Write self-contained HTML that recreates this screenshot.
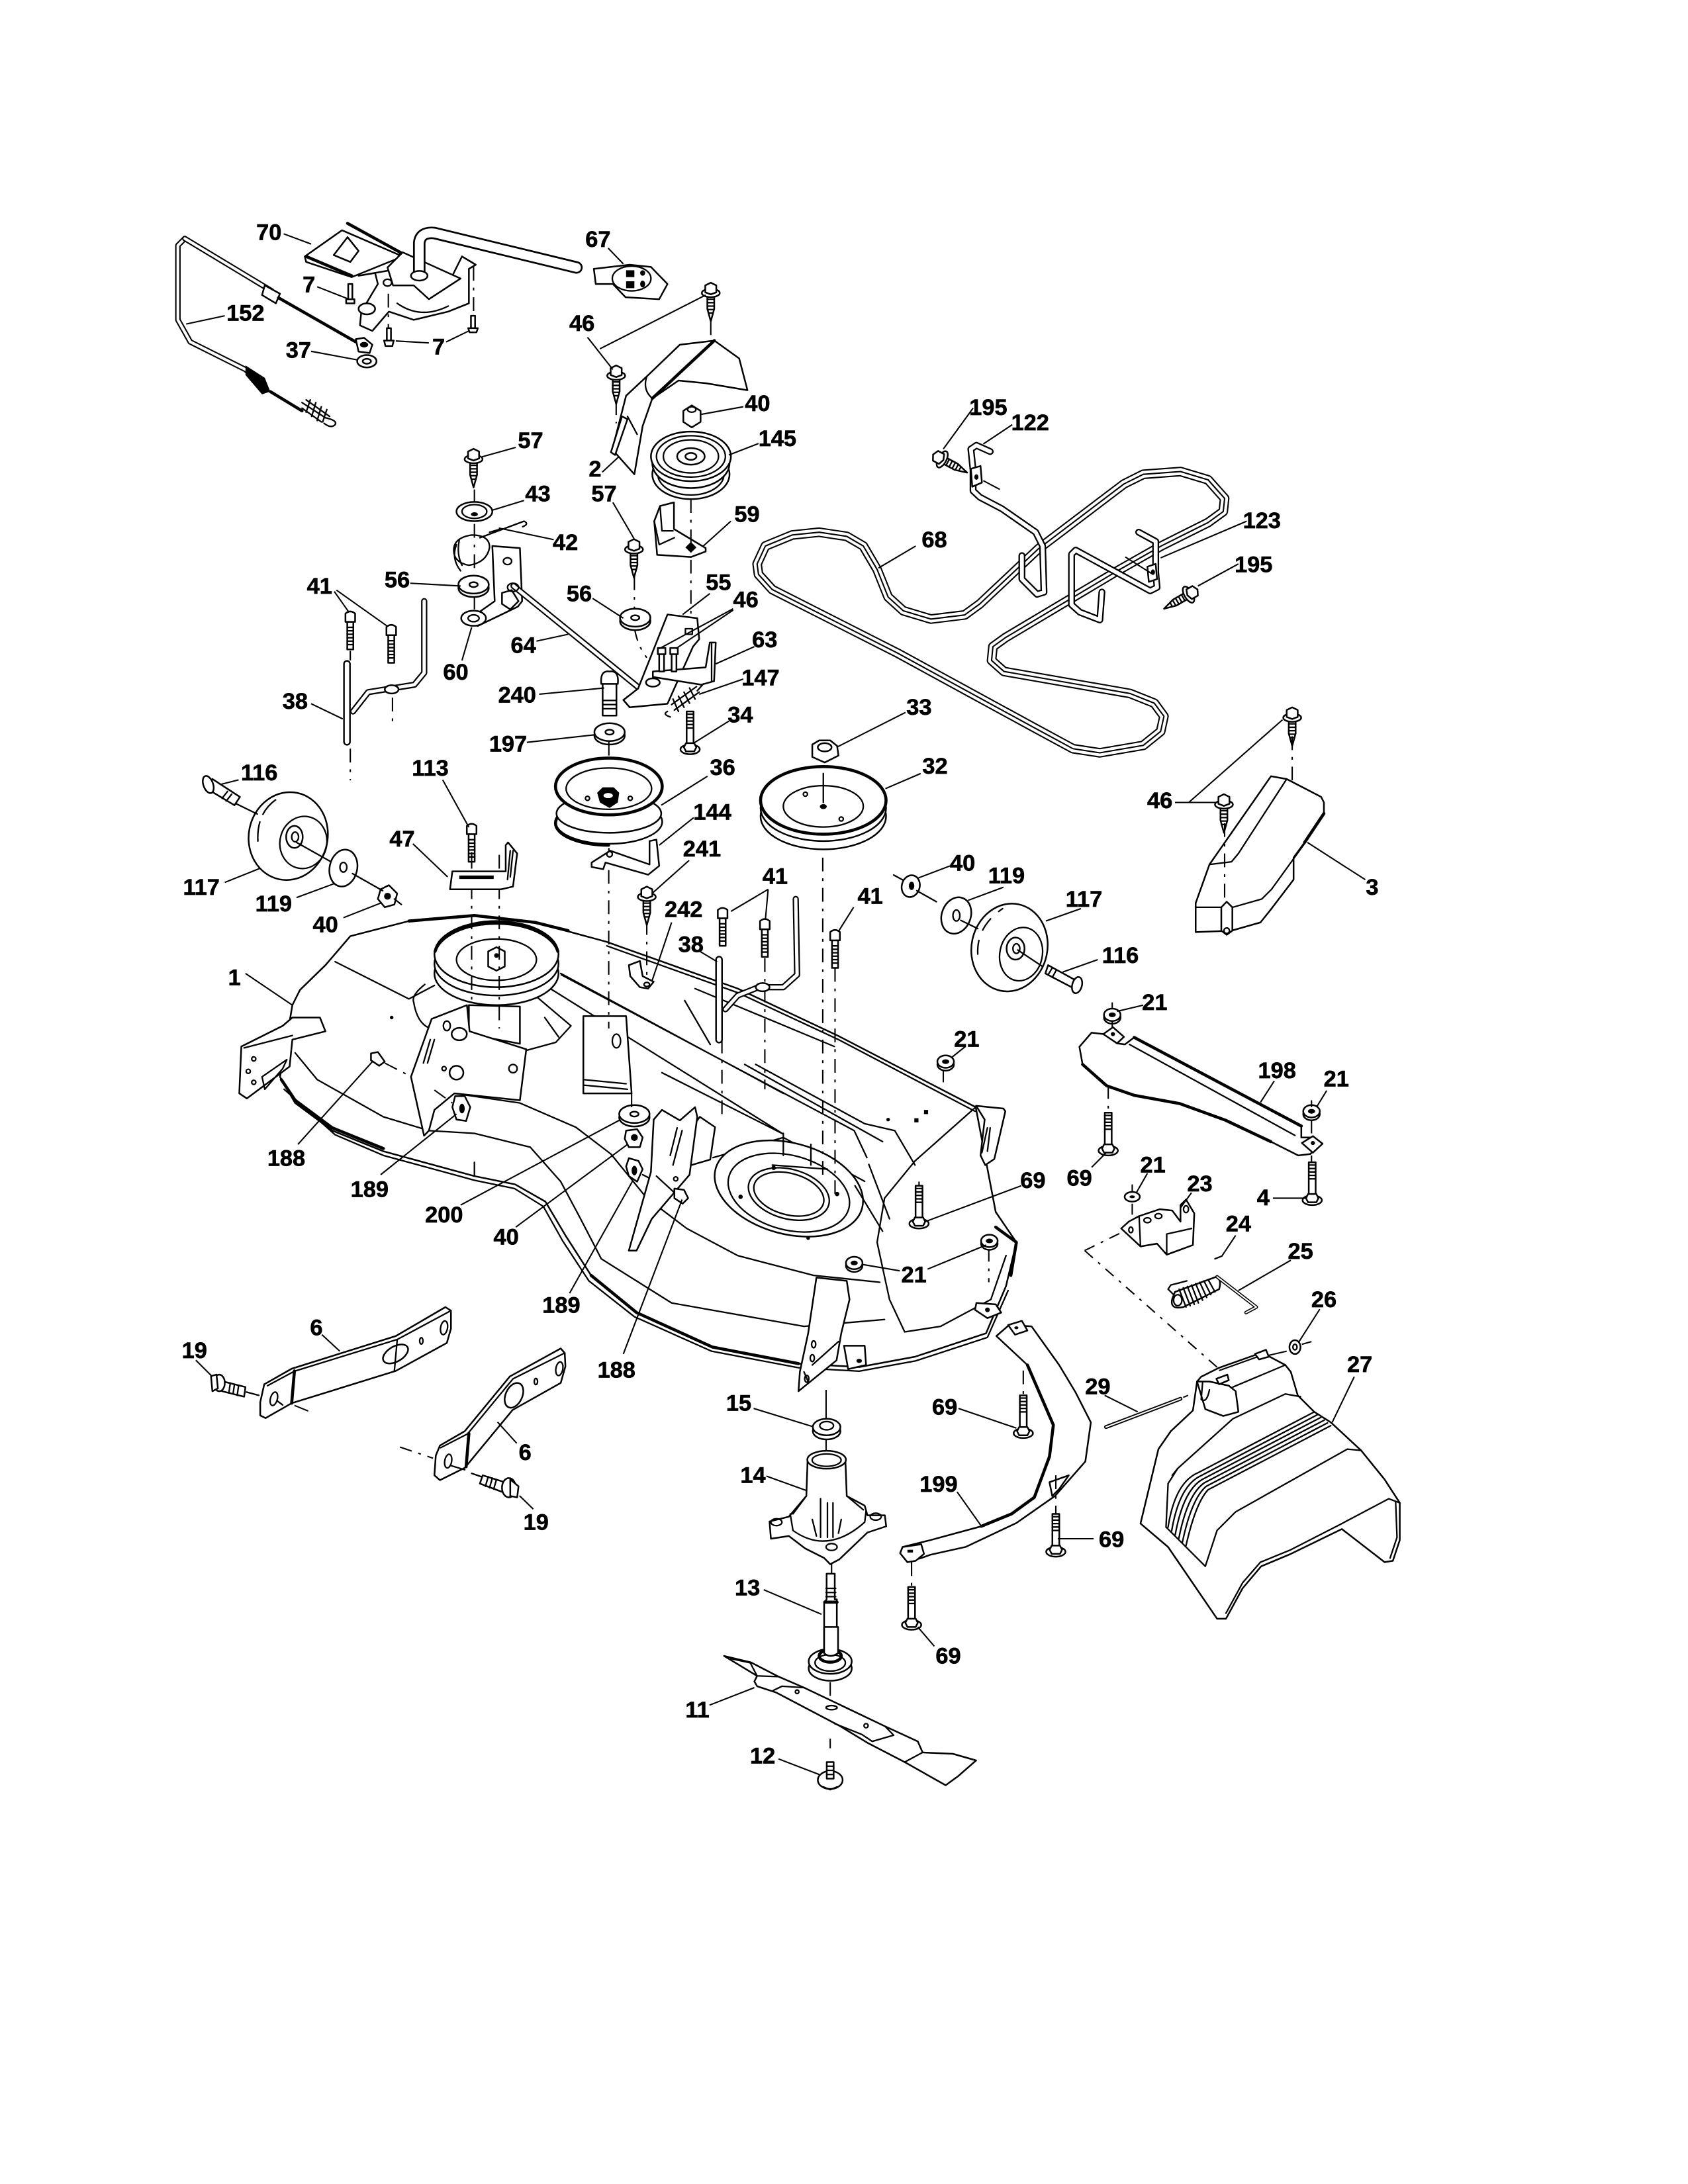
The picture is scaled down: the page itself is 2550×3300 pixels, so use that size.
<!DOCTYPE html>
<html><head><meta charset="utf-8"><title>Mower deck parts diagram</title>
<style>
html,body{margin:0;padding:0;background:#fff}
svg{display:block}
text{font-family:"Liberation Sans",sans-serif;font-weight:700;font-size:16.5px;text-anchor:middle;fill:#000;stroke:#000;stroke-width:.3}
.p{fill:#fff;stroke:#000;stroke-width:1.2;stroke-linejoin:round;stroke-linecap:round}
.n{fill:none;stroke:#000;stroke-width:1.1;stroke-linejoin:round;stroke-linecap:round}
.h{fill:none;stroke:#000;stroke-width:2.2;stroke-linejoin:round;stroke-linecap:round}
.l{fill:none;stroke:#000;stroke-width:1}
.d{fill:none;stroke:#000;stroke-width:1;stroke-dasharray:10 5 2 5}
.o{fill:none;stroke:#000;stroke-linejoin:round;stroke-linecap:round}
.w{fill:none;stroke:#fff;stroke-linejoin:round;stroke-linecap:round}
.k{fill:#000;stroke:none}
</style></head><body>
<svg xmlns="http://www.w3.org/2000/svg" width="2550" height="3300" viewBox="0 0 1224 1584">
<defs>
<g id="tb"><path class="p" d="M-2.5 4 -2.5 14 0 23 2.5 14 2.5 4Z"/><path class="n" d="M-2.5 7H2.5M-2.5 9.5H2.5M-2.5 12H2.5M-2.2 14.5H2.2M-1.6 17H1.6"/><ellipse class="p" cx="0" cy="2.5" rx="6.5" ry="3"/><path class="p" d="M-4 2V-3L0-5 4-3V2L0 3.5Z"/></g>
<g id="mb"><path class="p" d="M-2.2 4V24H2.2V4Z"/><path class="n" d="M-2.2 8H2.2M-2.2 10.500H2.2M-2.2 13H2.200M-2.200 15.500H2.200M-2.200 18H2.200M-2.200 20.500H2.200"/><path class="p" d="M-3.500 4V-2Q0-5 3.500-2V4Z"/></g>
<g id="hb"><path class="p" d="M-2.500 0V-26H2.500V0Z"/><path class="n" d="M-2.500-24H2.500M-2.500-21.500H2.500M-2.500-19H2.500M-2.500-16.500H2.500M-2.500-14H2.500"/><ellipse class="p" cx="0" cy="1.500" rx="7" ry="3.500"/><path class="p" d="M-4.500 0-3-3H3L4.500 0 3 3H-3Z"/></g>
<g id="nut"><ellipse class="p" cx="0" cy="2" rx="6" ry="4.500"/><ellipse class="p" cx="0" cy="0" rx="6" ry="4.500"/><ellipse class="k" cx="0" cy="0" rx="2.600" ry="1.700"/></g>
<g id="washer"><ellipse class="p" cx="0" cy="2.500" rx="11" ry="6.500"/><ellipse class="p" cx="0" cy="0" rx="11" ry="6.500"/><ellipse class="p" cx="0" cy="0" rx="3" ry="1.800"/></g>
<path id="belt" d="M549 409 L555 396 L574.500 388 L594 386 L614 389 L626 396 L636 413 L644 433 L655 443 L675 449 L699.500 446 L710.500 438 L753 398 L815 351 L829 344 L856 342 L876 348 L888 361.500 L887 371 L876 379 L842 396 L812 413 L729 462.500 L720 469 L719 479 L728 487 L819.500 503 L837 510 L844 519.500 L841.600 530.500 L829 540.600 L797.500 546 L778 543 L748.500 527 L650.500 473.500 L560 427.600 L550 416.600 Z"/>
<path id="wa" d="M718 327.500 L708 323 L704 325.700 L705.600 341 L705.600 356 L710.500 360.600 L726.500 369 L751 386 L756 396 L757 429.500 L752 431 L741 420 L741 403"/>
<path id="wb" d="M825.700 386 L838 392.700 L838 415 L839 426 L834 428.500 L780 399 L777 402 L777 438.600 L783 444 L797.500 449.600 L799 429.400"/>
</defs>
<rect width="1224" height="1584" fill="#fff"/>

<!-- DECK -->
<path class="p" d="M203 781 L206 765 L212 729 L217.500 718 L236 700 L254 679 L296.500 668 L344 664 L388 669 L439.600 683 L535 717 L608 751.400 L707.500 803 L722 879 L737 901 L729.500 932.700 L715 967 L663.500 984 L623 991.500 L579 989 L516.600 977 L461.600 952 L428.600 925 L410 896 L395.500 871.500 L373.500 859 L344 853 L278 835 L241 820 L214 800Z"/>
<path class="n" d="M206 790 L243 823 L278 838 L344 856 L373 862 L394 875 L408 900 L427 929 L460 955 L516 980 L579 992 L623 994.500 L664 987 L716 970 L731 936"/>
<path class="h" d="M204 783 L214 798 L241 818 L278 833 M296.500 668 L344 664 L388 669 L412 675 M428.600 925 L461.600 952 L516.600 977 L579 989 M722 890 L737 901 L733 925"/>
<path class="n" d="M440 686 L535 720 L608 754 L707 806"/>
<path class="n" d="M214 763.600 L230 783 L278 810 L311 820 L344 822 L384.500 832 L406.600 857 L421 884 L436 913 L487 945 L583 962 L641.400 957"/>
<path class="n" d="M329.500 793 L377 800 L417.600 817.600 L443 837 L469 869 L498 891 L535 910.700 L590 925 L638 930"/>
<path class="n" d="M344 843 L344 853"/>
<path class="n" d="M707.500 803 L663.500 842 L641.400 869 L636 901 L645 942.500 L656 966 L682 962 L718.500 942.500 L729.500 910.600"/>
<path class="n" d="M630 844.500 L645 884 M243 697.500 L296.500 724.500 L315 714.700"/>
<path class="n" d="M406.600 706 L568 793 M399 717 L568 822.500 M407 707 L619.400 820 L628.600 839.600 M480 778 L568 822.500 M548 772 L627 815 L648.800 820 L663.500 845 M504 717 L605 759 M496.500 725.700 L515 757.500 M540 772 L640 828"/>
<path class="n" d="M517 839.600 L568 825 L627 856.800"/>
<ellipse class="p" cx="572" cy="862" rx="55" ry="33" transform="rotate(15 572 862)"/>
<ellipse class="n" cx="572" cy="865" rx="45" ry="27" transform="rotate(15 572 865)"/>
<ellipse class="n" cx="572" cy="866" rx="30" ry="18" transform="rotate(15 572 866)"/>
<ellipse class="n" cx="572" cy="866" rx="26" ry="15" transform="rotate(15 572 866)"/>
<path class="n" d="M568 822 V838 M588 830 V845 M620 860 L640 893 M560 845 L600 848"/>
<circle class="k" cx="284" cy="738" r="1.300"/><circle class="k" cx="644" cy="812" r="1.300"/><circle class="k" cx="586" cy="898" r="1.300"/><circle class="k" cx="561" cy="847" r="1.600"/><circle class="k" cx="537" cy="868" r="1.600"/><circle class="k" cx="607" cy="866" r="1.600"/><path class="k" d="M663 811h3v3h-3ZM670 805h3v3h-3Z"/>
<!-- right flange -->
<path class="p" d="M707.800 802 L727.600 804 L729 806 L721 840.600 L714.400 845 L711 838 L714 812Z"/>
<path class="n" d="M716 818 L712 836 M718 818 L716 835"/>
<!-- left flange -->
<path class="p" d="M175 759 L205 744 L212 738 L232 738 L236 748 L212 754 L210 773.500 L179 796.700 L173.500 793Z"/>
<path class="n" d="M177 760 L212 751"/>
<circle class="n" cx="184" cy="768" r="1.500"/><circle class="n" cx="180" cy="777" r="1.500"/><circle class="n" cx="184" cy="785" r="1.500"/><path class="n" d="M190 781 L208 768.500 L205 775 L192 790Z"/>
<!-- pulley well -->
<path class="n" d="M300 727 Q303 745 315 746.500 M388 722 L414 744 L403 756 L381 762"/>
<path class="n" d="M308 714 Q298 722 300 727 M395 738 L405 752"/>
<!-- center pulley on deck -->
<path class="p" d="M340 729 L377 730 L377 757 L340 750Z"/>
<ellipse class="p" cx="360" cy="706" rx="45" ry="23"/>
<ellipse class="p" cx="360" cy="699" rx="45" ry="23"/>
<ellipse class="p" cx="360" cy="692" rx="45" ry="24"/>
<path class="h" d="M315.500 690 A45 24 0 0 1 404.500 690"/>
<ellipse class="n" cx="360" cy="696" rx="29" ry="15"/>
<path class="p" d="M354 690 L360 687 L366 690 L366 701 L360 704 L354 701Z"/>
<circle class="k" cx="360" cy="693" r="1.700"/>
<!-- left plate -->
<path class="p" d="M338.600 729 L313 739 L298 781 L307.500 823.700 L311 820 L315 805 L329.500 793 L377 798 L381.600 761 L340.500 748Z"/>
<ellipse class="n" cx="324" cy="744" rx="2.500" ry="3.500"/><ellipse class="p" cx="333" cy="750" rx="5.500" ry="4.500"/><circle class="n" cx="372" cy="775" r="3"/><ellipse class="p" cx="331" cy="778" rx="5" ry="5"/><circle class="n" cx="322" cy="775" r="1.500"/>
<path class="n" d="M315 754 L310 771 M312 754 L307 771"/>
<!-- mid bracket -->
<path class="p" d="M423 737 L454 737 L458 793 L423 793Z"/>
<path class="n" d="M423 783 L454 786 M423 787 L455 790"/>
<ellipse class="n" cx="447" cy="755" rx="3" ry="5"/>
<!-- left hardware -->
<path class="p" d="M269 764 L274 763 L279 770 L275 773 L269 769Z"/>
<path class="d" d="M279 771 L296.500 780 M315 790.600 L328 800"/>
<path class="p" d="M330 795 L337 795 L341 803 L338 813 L331 812 L328 803Z"/><ellipse class="k" cx="335" cy="804" rx="2" ry="3.500"/>
<!-- 200, 40, 189 -->
<use href="#washer" x="460" y="808"/>
<path class="p" d="M454 820 L462 819 L466 825 L464 832 L456 832 L453 826Z"/><circle class="k" cx="460" cy="825" r="2.500"/>
<path class="p" d="M456 840 L463 842 L466 848 L462 857 L456 853 L454 846Z"/><ellipse class="k" cx="460" cy="849" rx="2" ry="3.500"/>
<path class="n" d="M466 852 L474 856"/>
<!-- right bracket -->
<path class="p" d="M507.500 810 L518.500 817.500 L515 841 L494.600 847 L500 820Z"/>
<path class="p" d="M504 803 L505.600 810 L500 852 L472.600 884 L461.600 907 L456 907 L472 850 L474 812 L480 805 L493 812.600Z"/>
<path class="n" d="M494.600 820 L488 845 M491 818 L486 838"/>
<circle class="n" cx="490" cy="855" r="1.500"/>
<path class="p" d="M489 862 L496 863 L499 869 L495 873 L489 869Z"/>
<path class="n" d="M476 853 L489 865"/>
<!-- front tab -->
<path class="p" d="M592 926.600 L614 929 L616 942.500 L610 967 L606.600 986.600 L579 1009 L580 995 L586 967Z"/>
<path class="n" d="M589 990 L608 973 M583 995 L586 1002"/>
<ellipse class="n" cx="590" cy="975" rx="1.500" ry="2.500"/><ellipse class="n" cx="589" cy="985" rx="1.500" ry="2.500"/><ellipse class="n" cx="585" cy="1000" rx="1.500" ry="2.500"/>
<path class="p" d="M612 976 L627 976 L628 990 L615 993Z"/><ellipse class="k" cx="623" cy="987" rx="2" ry="1.500"/>
<path class="p" d="M708 945 L722 946 L726 952 L716 956 L707 950Z"/>
<ellipse class="k" cx="716" cy="950" rx="1.700" ry="1.700"/>
<!-- dash lines into deck -->
<path class="d" d="M342 620V729 M362 620V746 M441.400 631V746 M596.600 622V852 M605.500 702V866 M523.500 754V808 M554.600 695V790 M469 668V714 M458 793V805 M666.400 857V869 M717 905V930 M684 775V790 M441.500 600V618 M597 556V581"/>
<use href="#mb" x="524" y="662"/><use href="#mb" x="554.600" y="670"/><use href="#mb" x="605.500" y="678"/>
<path class="p" d="M456 700 L464 697 L466 708 L474 712 L470 717 L464 716 L457 708Z"/><ellipse class="n" cx="469" cy="714" rx="2" ry="1.500"/>
<use href="#hb" x="666.400" y="886"/>
<use href="#nut" x="685.700" y="770"/><use href="#nut" x="619.400" y="916"/><use href="#nut" x="717.400" y="900"/>

<!-- wire 38 left -->
<path class="o" stroke-width="5.500" d="M251.600 481.500 V538"/><path class="w" stroke-width="3.200" d="M251.600 481.500 V538"/>
<path class="o" stroke-width="4.500" d="M307.600 436 V488 L300.500 496.600 L267 502 L256 516"/><path class="w" stroke-width="2.400" d="M307.600 436 V488 L300.500 496.600 L267 502 L256 516"/>
<ellipse class="p" cx="284" cy="500" rx="5" ry="3"/>
<!-- wire 38 right -->
<path class="o" stroke-width="5.500" d="M521.400 696 V754"/><path class="w" stroke-width="3.200" d="M521.400 696 V754"/>
<path class="o" stroke-width="4.500" d="M577 652 L578 707 L568 716 L550 716 L535 722 L526 732"/><path class="w" stroke-width="2.400" d="M577 652 L578 707 L568 716 L550 716 L535 722 L526 732"/>
<ellipse class="p" cx="553" cy="716" rx="5" ry="3"/>

<!-- TOP LEFT CONTROL -->
<path class="o" stroke-width="4" d="M134 173 L129 178 V232 L138 248 L178 268 L192 280"/><path class="w" stroke-width="2" d="M134 173 L129 178 V232 L138 248 L178 268 L192 280"/>
<path class="o" stroke-width="4" d="M134 173 L197 211"/><path class="w" stroke-width="2" d="M134 173 L197 211"/>
<path class="p" d="M192 207 L203 213 L200 220 L190 214Z"/>
<path class="h" d="M202 216 L258 248 M196 284 L219 298"/>
<path class="k" d="M178 265 L192 274 L196 284 L190 286 L178 272Z"/>
<path class="n" stroke-width="2" d="M219 292 L236 303 M219 296 L233 306 M222 290 L239 302 M225 290 L222 299 M229 292 L226 302 M233 295 L230 305 M237 297 L234 306"/>
<path class="n" d="M236 303 Q245 305 243 308 Q240 311 235 307"/>
<path class="p" d="M258 246 L264 245 L270 250 L268 256 L260 255Z"/><ellipse class="k" cx="264" cy="250" rx="3" ry="2"/>
<ellipse class="p" cx="266" cy="262" rx="7" ry="4.500"/><ellipse class="p" cx="266" cy="262" rx="3" ry="1.800"/>
<path class="p" d="M221 186 L248 167 L292 186 L255 201 L222 190Z"/>
<path class="h" d="M252 162 L292 184 M255 200 L222 186"/>
<path class="p" d="M242 185 L252 172 L260 182 L254 190Z"/>
<path class="p" d="M260 200 L272 198 L274 206 L262 226 L261 236 L270 240 L282 226 L300 232 L325 226 L340 220 L340 195 L345 192 L335 186 L328 200 L290 184 L283 196Z"/>
<path class="n" d="M288 220 Q305 232 325 222"/>
<path class="p" d="M281 194 L292 183 L334 202 L311 217 L300 207 L285 207Z"/>
<ellipse class="p" cx="266" cy="224" rx="6" ry="4"/>
<ellipse class="n" cx="281" cy="205" rx="3" ry="2.500"/>
<path class="o" stroke-width="9" d="M304 199 V176 Q305 168 315 169 L418 194"/><path class="w" stroke-width="6.400" d="M304 199 V176 Q305 168 315 169 L418 194"/>
<ellipse class="p" cx="304" cy="200" rx="6" ry="3.500"/>
<path class="p" d="M252.500 206H255.500V218H252.500Z"/><path class="p" d="M251 217h6v3h-6Z"/>
<path class="p" d="M280.500 238H283.500V247H280.500Z"/><path class="p" d="M278.500 247h7l-1 4h-5Z"/>
<path class="p" d="M341.500 229H344.500V238H341.500Z"/><path class="p" d="M339.500 238h7l-1 3h-5Z"/>
<path class="d" d="M281.600 213V238M343.400 193.600V229"/>
<!-- 67 knob -->
<path class="p" d="M430.600 195 L456.600 192 L472 193.600 L484 206 L478 217 L453.600 215.600 L444.400 206 L432 206Z"/>
<ellipse class="n" cx="458" cy="202" rx="14" ry="9"/>
<path class="k" d="M454 196h6v5h-6ZM454 204h6v5h-6Z"/><ellipse class="k" cx="466" cy="198" rx="1.800" ry="2"/><ellipse class="k" cx="466" cy="206" rx="1.800" ry="2.500"/>

<!-- SHIELD 2 -->
<path class="p" d="M518 247 L536 260 L542 283 L512 278 L492 276 L473 289 L466 309 L460 344 L444 326 L454 287 L469 273 L493 250 Z"/>
<path class="h" d="M518 247 L473 289"/>
<path class="n" d="M469 273 Q466 282 472 288 M455 302 L462 315"/>
<path class="p" d="M451 302 L455 304 L446 330 L443 328Z"/>
<use href="#tb" x="515.400" y="210"/><use href="#tb" x="446.800" y="270"/>
<path class="d" d="M515.400 233V247M446.800 291V307"/>
<!-- Pulley 145 -->
<path class="p" d="M495.500 298 L501.600 294 L508 298 L508 306 L501.600 310 L495.500 306Z"/><ellipse class="n" cx="501.600" cy="297" rx="3" ry="2"/>
<ellipse class="p" cx="501" cy="344" rx="28" ry="18"/>
<ellipse class="n" cx="501" cy="344" rx="24" ry="15"/>
<ellipse class="p" cx="501" cy="336" rx="28" ry="18"/>
<ellipse class="p" cx="501" cy="331" rx="29" ry="18"/>
<ellipse class="n" cx="501" cy="331" rx="25" ry="15"/>
<ellipse class="n" cx="501" cy="331" rx="20" ry="12"/>
<ellipse class="p" cx="501" cy="331" rx="10" ry="6"/><ellipse class="p" cx="501" cy="331" rx="4" ry="2.500"/>
<!-- 59 -->
<path class="p" d="M478.600 367 L488.700 364.400 L488.700 383.700 L511.700 397.500 L511.700 400 L501 404 L476.500 402.400 L474.400 378Z"/>
<path class="n" d="M478.600 367 L480 385 L488 385 M474.400 378 L478 395 L489 390"/>
<path class="d" d="M501 362V397 M501 406V455"/>
<path class="k" d="M497 397 L501 393 L505 397 L501 401Z"/>

<!-- Spring/43 group -->
<use href="#tb" x="343.400" y="330.500"/>
<path class="d" d="M344 355V364 M344 380V415 M344 433V442"/>
<ellipse class="p" cx="344" cy="371" rx="13" ry="7"/><ellipse class="n" cx="344" cy="371" rx="9" ry="5"/><ellipse class="k" cx="344" cy="373" rx="2.500" ry="1.500"/>
<path class="n" stroke-width="1.600" d="M329 399 Q329 390 342 388 Q355 388 355 397 Q353 408 340 410 Q329 408 329 399 M331 395 Q327 405 334 414 M333 392 Q331 402 335 410"/>
<path class="n" d="M348 390 L380 378 Q384 380 379 382 M355 386 L362 384"/>
<use href="#washer" x="343.400" y="424"/>
<path class="p" d="M357 396 L377 397.500 L378.600 436 L375.500 440 L346.400 454 L335.700 450 L345 445.700 L358.700 436Z"/>
<ellipse class="n" cx="368" cy="407" rx="3" ry="2.500"/>
<ellipse class="p" cx="343.400" cy="448.400" rx="9" ry="5.500"/><ellipse class="n" cx="343.400" cy="448.400" rx="4" ry="2.500"/>
<path class="p" d="M364 430 L371 428 L376 436 L370 442 L364 438Z"/>
<!-- rod 64 -->
<path class="o" stroke-width="4.500" d="M372.400 425 L464 499.400 L465.800 507.700"/><path class="w" stroke-width="2.400" d="M372.400 425 L464 499.400 L465.800 507.700"/>
<ellipse class="n" cx="372" cy="426" rx="4" ry="3"/>
<!-- 56 right + 57 -->
<use href="#tb" x="459.700" y="396"/>
<path class="d" d="M460 418V441 M460 455 Q462 468 469 477"/>
<use href="#washer" x="460.600" y="448"/>
<!-- 55 bracket -->
<path class="p" d="M484 445.700 L505.600 448.400 L507 463.600 L502.500 469 L484 510.400 L456.600 513 L452 507.700 L462.700 499.400Z"/>
<path class="n" d="M497 456h5v4h-5Z"/><ellipse class="p" cx="473.400" cy="495" rx="5" ry="3"/>
<path class="p" d="M473.400 487 L511.700 484 L514.700 466 L519 466 L517.800 494 L508.600 496.600 L473.400 491Z"/>
<path class="n" d="M516 466 V494"/>
<path class="p" d="M478 474h3.500v13h-3.500Z"/><path class="p" d="M477 470h5.500v4.500h-5.500Z"/>
<path class="p" d="M487 474h3.500v13h-3.500Z"/><path class="p" d="M486 470h5.500v4.500h-5.500Z"/>
<path class="n" stroke-width="2.500" d="M487 511 L505 498 M489 515 L507 502 M488 507 L492 516 M492 505 L496 513 M496 502 L500 510 M500 499 L504 507"/>
<path class="n" d="M484 516 Q480 518 486 520 M505.600 501 L510 496"/>
<use href="#hb" x="500.400" y="542"/>
<!-- 240/197 -->
<path class="p" d="M437 495H447V519H437Z"/><path class="n" d="M437 508H447M437 511H447M437 514H447"/><path class="p" d="M436 496 Q435 486 442 487 Q449 486 448 496Z"/>
<use href="#washer" x="442" y="531"/>
<!-- Pulley 36 -->
<ellipse class="p" cx="441.500" cy="596" rx="38.700" ry="16"/>
<ellipse class="h" cx="441.500" cy="597" rx="38.700" ry="16" stroke-dasharray="60 200" stroke-dashoffset="-45"/>
<ellipse class="p" cx="441.500" cy="590" rx="38" ry="14"/>
<ellipse class="p" cx="441.500" cy="570.400" rx="38.700" ry="20.600"/>
<ellipse class="h" cx="441.500" cy="570.400" rx="38.700" ry="20.600"/>
<ellipse class="n" cx="441.500" cy="572" rx="31" ry="15"/>
<path class="k" d="M433 575 L437 571 L445 571 L449 575 L448 582 L442 586 L435 582Z"/><ellipse class="p" cx="441" cy="577" rx="4" ry="2.500"/>
<circle class="n" cx="426" cy="579" r="1.500"/><circle class="n" cx="457" cy="579" r="1.500"/>
<path class="d" d="M441.500 538V548"/>
<!-- 144 bracket -->
<path class="p" d="M429 625.600 L442.500 617 L471 627 L471 610 L476 609 L478 628 L470 634.400 L439 625.600 L437.400 630.400 L429 628.800Z"/>
<circle class="n" cx="442" cy="619.500" r="2"/>
<use href="#tb" x="469" y="648"/>
<!-- Pulley 32 -->
<ellipse class="p" cx="597" cy="592" rx="45.500" ry="24"/>
<ellipse class="p" cx="597" cy="586" rx="45.500" ry="24"/>
<ellipse class="p" cx="597" cy="580.500" rx="45.500" ry="24.500"/>
<ellipse class="h" cx="597" cy="580.500" rx="45.500" ry="24.500"/>
<ellipse class="n" cx="597" cy="584.800" rx="29" ry="15"/>
<ellipse class="k" cx="597" cy="585" rx="2.500" ry="1.800"/><circle class="n" cx="584" cy="576" r="1.500"/><circle class="n" cx="610" cy="594" r="1.500"/>
<path class="n" d="M597 561V582"/>
<path class="p" d="M589 540 L594 537 L602 537 L607 541 L608 548 L598 553 L589 549Z"/><ellipse class="p" cx="598" cy="542" rx="5" ry="3"/>

<!-- Belt 68 -->
<use href="#belt" class="o" stroke-width="7"/><use href="#belt" class="w" stroke-width="5"/><use href="#belt" class="o" stroke-width="1"/>
<!-- Wire brackets 122/123 -->
<use href="#wa" class="o" stroke-width="5"/><use href="#wa" class="w" stroke-width="2.800"/>
<use href="#wb" class="o" stroke-width="5"/><use href="#wb" class="w" stroke-width="2.800"/>
<path class="p" d="M704 340 L711 338 L712 350 L705 353Z"/><ellipse class="k" cx="708" cy="346" rx="1.500" ry="2"/>
<path class="p" d="M832 411 L838 409 L839 420 L833 422Z"/><ellipse class="k" cx="836" cy="415" rx="1.500" ry="2"/>
<use href="#tb" x="681" y="332" transform="rotate(-62 681 332)"/>
<use href="#tb" x="864" y="430" transform="rotate(60 864 430)"/>
<path class="l" d="M713 348.600 L725 355 M816 404 L836 416.600"/>

<!-- Left wheel -->
<ellipse class="p" cx="209" cy="606.400" rx="28.600" ry="32" transform="rotate(12 209 606.400)"/>
<ellipse class="n" cx="220" cy="611" rx="17" ry="19" transform="rotate(12 220 611)"/>
<ellipse class="p" cx="213.500" cy="607" rx="6" ry="8"/><ellipse class="n" cx="214" cy="607" rx="2.500" ry="3.500"/>
<path class="n" stroke-dasharray="14 6" d="M187 610 Q186 590 200 580"/>
<ellipse class="p" cx="249" cy="629.600" rx="10" ry="13.500" transform="rotate(12 249 629.600)"/><ellipse class="n" cx="249" cy="629" rx="2.500" ry="3.500"/>
<path class="p" d="M276 645 L282 642 L288 648 L286 656 L279 658 L274 652Z"/><circle class="k" cx="281" cy="650" r="2.500"/>
<path class="n" d="M215 611 L240 625 M255.600 633.600 L277.500 646 M286 652 L291 656 M171.400 583 L186.600 590.400"/>
<path class="p" d="M154 565 L174 578 L170 584 L150 572Z"/><ellipse class="p" cx="151" cy="569" rx="3.500" ry="6.500" transform="rotate(-20 151 569)"/>
<path class="n" d="M165 574 L161 579 M168 576 L164 581"/>
<!-- Right wheel -->
<ellipse class="p" cx="732" cy="687.200" rx="27.500" ry="32" transform="rotate(12 732 687.200)"/>
<ellipse class="n" cx="740.400" cy="692" rx="15.400" ry="19.500" transform="rotate(12 740.400 692)"/>
<ellipse class="p" cx="736.400" cy="688" rx="6.500" ry="8"/><ellipse class="n" cx="737" cy="688" rx="2.500" ry="3.500"/>
<path class="n" stroke-dasharray="10 8" d="M709 692 Q708 672 727 659"/>
<ellipse class="p" cx="693.400" cy="664" rx="10.500" ry="13.500" transform="rotate(20 693.400 664)"/><ellipse class="n" cx="693.500" cy="664" rx="2.500" ry="4"/>
<ellipse class="p" cx="660.400" cy="642.700" rx="6.500" ry="8" transform="rotate(15 660.400 642.700)"/><ellipse class="k" cx="661" cy="642.500" rx="2" ry="3"/>
<path class="n" d="M648 634.600 L655 638.400 M664.800 646 L679 654 M696.700 667.500 L709 673.500 M738 689 L756 701"/>
<path class="p" d="M760 700 L780 711 L777 716 L758 706Z"/><ellipse class="p" cx="781" cy="714.500" rx="3.500" ry="6" transform="rotate(15 781 714.500)"/>
<path class="n" d="M763 702 L760 707 M766 703.500 L763 709"/>
<!-- 47 bracket + 113 -->
<path class="p" d="M328 632 L366.700 632 L366.700 613 L368.400 611 L375 619 L372 643 L363.400 645 L326.300 645Z"/>
<path class="k" d="M333 635 L358 635 L358 637.500 L333 637.500Z"/>
<path class="n" d="M370 617 L368 638 M372 617 L370 636"/>
<use href="#mb" x="342" y="601"/>
<path class="d" d="M342 618V632"/>
<path class="d" d="M254 472V479 M254 543V566 M284.600 506V528"/>
<use href="#mb" x="254" y="447"/><use href="#mb" x="283.700" y="456.700"/>

<!-- Shield 3 -->
<path class="p" d="M921.600 563 L933 565 L958 578 L960 582 L960 590 L946 611 L938 622 L938 638 L922 659 L914 669 L893 675 L867 676 L867 655 L877 627Z"/>
<path class="n" d="M933 565 L898 619 L893 625 L877 627 M948 609 L922 645 L915 652 L894 658 M867 658 H885"/>
<path class="h" d="M960 590 L946 611"/>
<path class="p" d="M885.600 658 L889.500 654 L893.600 658 V675 L889.500 678 L885.600 675Z"/><circle class="n" cx="889.500" cy="675" r="2"/>
<use href="#tb" x="937" y="518"/><use href="#tb" x="887.500" y="581"/>
<path class="d" d="M937 534V566M888 597V654"/>
<path class="l" d="M852 582 L882 582 M862 582 L930 522 M948 611 L990 638"/>

<!-- 198 -->
<path class="p" d="M791.500 749 L782.700 759.200 L785 772 L802.500 787.500 L822.400 794.400 L855.400 800.400 L888.500 812.400 L921.500 828 L941.400 838 L950 837 L959 829.500 L950 825 L943.600 825 L943.600 816.700 L822.400 752.400 L815.700 757.500 L810 756.700 L800.300 750Z"/>
<path class="h" d="M822.400 752.400 L943.600 816.700 M785 772 L802.500 787.500 L822.400 794.400 L855.400 800.400 L888.500 812.400 L921.500 828"/>
<path class="n" d="M819 757.500 L939 823.500"/>
<path class="p" d="M800 750 L807 745 L815 752 L810 756.700Z"/><path class="p" d="M944 829 L952 824 L959 829.500 L952 836Z"/>
<circle class="k" cx="807" cy="750" r="1.500"/><circle class="k" cx="952" cy="829" r="1.500"/>
<use href="#nut" x="806.500" y="736"/><use href="#nut" x="951" y="806"/>
<path class="d" d="M803.600 787V810 M951 798V803 M951 812V822 M951 838V847"/>
<path class="l" d="M806.500 727V731 M806.500 741V746"/>
<use href="#hb" x="803.600" y="833"/><use href="#hb" x="951.500" y="869"/>
<!-- 23 -->
<path class="p" d="M813 891 L818.500 886 L826 882 L841 877 L850 878 L856 886 L856 874 L860 870 L866 880 L865 903 L846 910 L839 902 L827 904Z"/>
<path class="n" d="M826 882 L827 904 M846 895 L864 891 M846 895 L846 910"/>
<ellipse class="n" cx="832" cy="885" rx="2.500" ry="1.800"/><ellipse class="n" cx="840" cy="882" rx="2.500" ry="1.800"/><ellipse class="n" cx="860" cy="877" rx="1.800" ry="2.500"/><ellipse class="n" cx="820" cy="892" rx="1.500" ry="2"/>
<ellipse class="p" cx="821" cy="868" rx="5.500" ry="3.500"/><ellipse class="k" cx="821" cy="868" rx="2" ry="1"/>
<path class="l" d="M821 859V864 M821 873V881"/>
<path class="l" stroke-dasharray="8 5 2 5" d="M786.500 907 L813 894 M786.500 907 L883 992"/>
<path class="n" d="M881 913 L886 911"/>
<!-- Spring 25 -->
<path class="p" d="M852 937 L882 926 Q886 928 884 935 L858 948 Q848 950 850 942Z"/>
<path class="n" stroke-width="1.400" d="M855 935 L860 948 M858 934 L863 947 M861 933 L866 946 M864 932 L869 945 M867 931 L872 943 M870 930 L875 941 M873 929 L878 939 M876 928 L881 937"/>
<ellipse class="n" cx="854" cy="943" rx="3" ry="4"/>
<path class="o" stroke-width="2.500" d="M882.500 926 L911 948 L903.500 952"/><path class="w" stroke-width="1" d="M882.500 926 L911 948 L903.500 952"/>
<path class="n" d="M860.600 929 L849 932 L847 935 L851 939"/>
<ellipse class="p" cx="939" cy="977" rx="4" ry="5"/><ellipse class="n" cx="939" cy="977" rx="1.500" ry="2"/>
<path class="l" d="M944 975 L951 973"/>
<!-- 29 pin -->
<path class="o" stroke-width="2.800" d="M802 1035 L856 1014.500"/><path class="w" stroke-width="1" d="M802 1035 L856 1014.500"/>
<path class="l" d="M858 1013.500 L861.500 1012"/>
<!-- 27 chute -->
<path class="p" d="M827 1105 L840 1051 L849 1038 L865 1023 L868 1002 L871 998.500 L884 992 L915 981 L932 990 L936 995 L941 1012 L953 1024 L965 1031.600 L987 1052 L1004 1073 L1015 1090 L1015 1117 L1010 1132 L1004 1133 L973 1109 L936 1127 L914.500 1136 L901 1152 L889 1174 L882.500 1174 L847 1122Z"/>
<path class="n" d="M1015 1090 L1007 1087 L973 1105 L936 1124 L914 1133 L901 1148 L889 1170 M1012 1089 L1013 1115 L1008 1130"/>
<path class="n" d="M894 1006 L932 990 M845.500 1107.500 L847 1076 L854 1065 L894 1029 L932 1011 L943 1013"/>
<path class="n" d="M854 1065 L850 1070"/>
<path class="n" stroke-width="1.400" d="M847 1107.600 Q852 1075 869 1068 L953 1024 M849.600 1110.300 Q855 1078 870.400 1070.500 L955.400 1026 M852.200 1113 Q858 1081 871.800 1073 L957.800 1028 M854.800 1115.700 Q861 1084 873.200 1075.500 L960.200 1030 M857.400 1118.400 Q864 1087 874.600 1078 L962.600 1032 M860 1121 Q867 1090 876 1080.500 L965 1034"/>
<path class="n" d="M845.500 1107.500 L874 1136 L882.500 1110 L896 1096.500 L977 1051 L987 1052"/>
<path class="p" d="M868 1002 L877 1002 L891 1005 L896 1009 L898 1024 L887 1027 L874 1022Z"/>
<path class="n" d="M872 1003 L871 1015 Q875 1018 877 1008"/>
<path class="p" d="M882 1000 L890 997 L891 1001 L884 1004Z"/>
<path class="p" d="M910 982 L918 979 L920 984 L913 986Z"/>
<path class="l" d="M884 994 L912 984 M920 983 L933 980"/>
<!-- 199 strap -->
<path class="p" d="M722.500 969 L731.700 961 L748 962 L768 990 L780 1010 L791 1031.600 L787 1060 L765 1085 L737 1104.600 L700.400 1121.900 L674.700 1127.600 L668 1130 L658 1133 L652.700 1126.500 L654.500 1122 L674.700 1117 L711.500 1107 L733.500 1098 L750 1086 L761 1056.400 L763.800 1033.500 L745 990Z"/>
<path class="h" d="M711.500 1107 L733.500 1098 L750 1086 L761 1056.400 L763.800 1033.500 L745 990"/>
<path class="p" d="M652.700 1126.500 L654.500 1122 L668 1120 L670 1127 L664 1132 L658 1133Z"/><path class="k" d="M658 1124h4v2h-4Z"/>
<path class="p" d="M761 1075 L775 1070 L768 1080 L763 1085Z"/>
<path class="p" d="M731 961 L741 958 L745 965 L736 968Z"/><ellipse class="k" cx="737" cy="963" rx="1.500" ry="1"/>
<use href="#hb" x="742" y="1038"/><use href="#hb" x="765.600" y="1124"/><use href="#hb" x="661" y="1177"/>
<path class="d" d="M742 994V1012 M765.600 1070V1098 M661 1133V1150"/>
<!-- 6 arms -->
<path class="p" d="M188.700 1026.600 L188.700 1017 L191.600 1004 L211.500 992.700 L287 969 L323 948 L327 950.600 L327 963.600 L324 974 L287 994.300 L211.500 1017.700 L192.600 1028.500Z"/>
<path class="n" d="M194 1005 L213.500 994.500 L288 971.500 L327 950.600"/>
<path class="h" d="M213.500 994.300 L211.500 1017.700"/>
<ellipse class="n" cx="198.600" cy="1014.500" rx="2.500" ry="5" transform="rotate(15 198.600 1014.500)"/><ellipse class="n" cx="322" cy="963" rx="2.500" ry="5" transform="rotate(10 322 963)"/><ellipse class="n" cx="305.500" cy="972.500" rx="1.200" ry="2.300"/>
<ellipse class="p" cx="286.800" cy="982" rx="10" ry="5.500" transform="rotate(-30 286.800 982)"/><path class="n" d="M288 972 L286 994"/>
<path class="l" d="M213.500 1019.300 L223.500 1023.400"/>
<path class="n" d="M201 1016 L205 1019"/>
<path class="n" d="M178.700 1009.600 L187.700 1012"/>
<path class="p" d="M162 1002 L178 1006 L177 1013 L161 1009Z"/><path class="n" d="M167 1003 L166 1010 M170 1004 L169 1011 M173 1005 L172 1012"/>
<ellipse class="p" cx="159" cy="1003" rx="4" ry="6"/><path class="p" d="M153 998 L157 997 L158 1007 L154 1009Z"/>
<path class="p" d="M319 1073.500 L315 1070 L316 1055.700 L319 1048.400 L337 1038 L369.700 998.300 L406.600 978 L409.500 981.300 L410 991 L406.600 1003 L371.700 1022.600 L337 1064.600Z"/>
<path class="n" d="M319.500 1050 L339 1040 L372 1000 L409.500 981.300"/>
<path class="h" d="M340 1039.500 L338 1063.800"/>
<ellipse class="p" cx="372.700" cy="1012" rx="6" ry="9.500" transform="rotate(25 372.700 1012)"/><ellipse class="n" cx="405.600" cy="992.700" rx="2.500" ry="5" transform="rotate(10 405.600 992.700)"/><ellipse class="n" cx="388.600" cy="1002" rx="1.200" ry="2.300"/><ellipse class="n" cx="325" cy="1059.700" rx="2.500" ry="5" transform="rotate(10 325 1059.700)"/>
<path class="l" stroke-dasharray="9 5 2 5" d="M290 1049.500 L314 1057.600"/>
<path class="n" d="M327 1063 L337 1066 M342 1068.600 L349 1071"/>
<path class="p" d="M350 1070 L366 1075 L364 1082 L348 1076Z"/><path class="n" d="M354 1071 L352 1078 M357 1072 L355 1079 M360 1073 L358 1080"/>
<ellipse class="p" cx="369" cy="1079" rx="5" ry="7"/><path class="p" d="M370 1073 L376 1078 L375 1086 L370 1085Z"/>
<!-- 15 / spindle 14 -->
<ellipse class="p" cx="599.400" cy="1038" rx="10" ry="6"/><ellipse class="p" cx="599.400" cy="1035" rx="10" ry="6"/><ellipse class="n" cx="599.400" cy="1034" rx="5" ry="3"/>
<path class="l" d="M599 1008V1029 M599 1044V1059"/>
<path class="p" d="M558 1103.500 L572 1100 L584.700 1085 L585.600 1058.700 L613 1058.700 L614 1085 L627 1092 L629 1099 L641.600 1099 L642.600 1107 L629 1111.500 L608.600 1131 L602 1134.500 L597.600 1130 L583.800 1123 L572 1114 L559 1116Z"/>
<ellipse class="p" cx="599.400" cy="1058.700" rx="14" ry="6.500"/><ellipse class="n" cx="599.400" cy="1059" rx="10.500" ry="4.500"/>
<path class="n" d="M573 1098 L575 1110 Q600 1128 627 1104 L628 1096 M584.700 1085 L575 1098 M614 1085 L626 1095 M595 1087 V1115 M600 1090 V1115 M604 1090 V1115 M589 1102 L592 1114 M610 1102 L608 1112"/>
<ellipse class="n" cx="563" cy="1104" rx="4" ry="2.500"/><ellipse class="n" cx="635" cy="1100" rx="4" ry="2.500"/><ellipse class="n" cx="603" cy="1122" rx="4" ry="2.500"/>
<!-- 13 shaft -->
<path class="p" d="M599.400 1141.400 H605.300 V1160 H606.800 V1199 H597.600 V1162 L599.400 1160Z"/><path class="n" d="M599 1152H606M599 1155H606M599 1158H606"/><path class="h" d="M598 1162H607"/>
<path class="l" d="M603 1134V1141"/>
<ellipse class="p" cx="602" cy="1210" rx="15.600" ry="9"/><ellipse class="p" cx="602" cy="1205" rx="15.600" ry="9"/><ellipse class="n" cx="602" cy="1206" rx="11" ry="6"/><ellipse class="h" cx="602" cy="1201" rx="8" ry="4.500"/>
<path class="p" d="M597.600 1180 H607.700 V1199 Q602 1203 597.600 1199Z"/>
<!-- 11 blade -->
<path class="p" d="M525 1201 L544.300 1205.600 L564.500 1216 L583 1224 L641.700 1252 L665.500 1263 L669 1271 L691 1272 L707.800 1276.800 L695 1288 L685.700 1294.800 L656 1278 L629 1264 L608.600 1251.600 L562.700 1227.500 L549 1223 L547 1219.500 L549 1215.500Z"/>
<path class="n" d="M530 1203 L544 1206 L549 1215.500 L564 1216 M560.800 1226 L567 1223 L583 1224 M605 1250 L625 1258 L632.500 1263 L648 1258.500 L641.700 1252 M656 1278 L669 1271"/>
<ellipse class="n" cx="603" cy="1238.500" rx="4" ry="1.500"/><circle class="n" cx="628" cy="1251.600" r="1.500"/><circle class="n" cx="578" cy="1227" r="1.300"/>
<path class="d" d="M602 1220V1234"/><path class="l" d="M602 1261V1268"/>
<ellipse class="p" cx="602" cy="1291" rx="9" ry="6.500"/>
<path class="p" d="M599.500 1278H604.500V1290H599.500Z"/><path class="n" d="M599.500 1281H604.500M599.500 1284H604.500M599.500 1287H604.500"/>
<path class="n" d="M597 1296 L602 1298 L607 1296"/>

<!-- LEADERS -->
<path class="l" d="M205.700 169.600 L225.600 177 M230 208 L253 217 M163 229 L135 235 M311 248.700 L287 247.300 M323.500 248 L340 240 M225.600 254.800 L259 261 M441 180 L452 191.400"/>
<path class="l" d="M426 244.600 L444.400 268 M435 253 L511.700 214 M539 295 L508.600 300.500 M550 321.700 L528.500 330 M374 324.500 L349.500 331.300 M380 363 L357 370 M444.400 364.400 L459.700 390.600 M401.500 391.400 L361.700 383 M530 378 L510 396 M436.700 342.400 L449 331"/>
<path class="l" d="M297.500 423 L334 425 M429.700 434 L452 448.400 M242.400 429 L253 444 M244 428 L280.600 454 M514.700 430.500 L495 445.700 M531.600 441.500 L478 470.500 M531.600 442.500 L490 470.500 M389 465 L412 460 M547 469 L519 481.500 M342 455 L335 479 M539 492.500 L507 503.500 M225.600 510.400 L248.500 521.400 M391 503.500 L438 499 M528.500 523 L502.500 539.300 M382 538.400 L430.700 533"/>
<path class="l" d="M656.600 516.700 L607.600 541.500 M667.600 561 L642 572 M513 563 L479.500 584 M503 593 L478 613 M173 565.600 L159.700 569 M321 565.600 L340 600 M299.400 612 L324.600 636"/>
<path class="l" d="M163 640 L188 630 M215 651 L242 641 M249 665.600 L276 655 M499.700 624 L472.800 648 M487 669 L472.600 712 M557 645 L530 661 M557 645 L555 667 M619 658 L608 675.500 M689 628 L666 636.700 M727.600 643.500 L702 653 M783.800 659 L758.400 668 M796 696 L770.600 705 M507.500 690 L520 697.500"/>
<path class="l" d="M705.600 296 L684 325.700 M734 308 L713 322 M664 396 L637 412 M904 378 L841.600 404.600 M898 409 L868.600 425"/>
<path class="l" d="M178 706 L212 729 M700 759 L690 767 M829 729 L810 733.500 M924 784 L914 799.500 M962 791 L954.600 803 M216 830 L270 770 M276 852 L331 808 M791.600 846.600 L802.500 835.600 M832 851 L824 865 M864 865 L856 876 M923 869 L946.500 869 M334 874 L450 812 M374 890 L455 830 M896 896 L886 911 M936 914 L898 936"/>
<path class="l" d="M740.500 860 L671 886 M652.400 921.700 L625 917 M672.600 920.500 L715 903 M413 938 L459 856 M452 982 L494.600 870 M957 949.500 L942 973 M982 998.500 L966 1031.600 M801 1012 L825 1024 M142 986.500 L153.800 998.300 M233.400 968 L246.400 980 M374.700 1046.800 L360.800 1031.400"/>
<path class="l" d="M546.500 1021.500 L589 1034.600 M695 1021.500 L737 1035.800 M555.700 1070.600 L584.700 1081 M694 1082 L711 1106 M376.700 1084.800 L386.700 1094.500 M767 1116 L793 1116 M553.800 1153 L595.700 1170.800 M665.500 1180 L677.500 1194 M514.500 1236.700 L547 1224 M564.500 1275.700 L594 1287"/>

<!-- LABELS -->
<g>
<text x="195" y="174">70</text><text x="433.600" y="179">67</text><text x="224" y="212">7</text><text x="178" y="232.500">152</text><text x="318" y="257">7</text><text x="216.400" y="259.500">37</text><text x="422" y="240">46</text><text x="549.300" y="298">40</text><text x="384.700" y="325">57</text><text x="563.700" y="323.500">145</text><text x="431.500" y="345.500">2</text><text x="716.600" y="301">195</text><text x="747" y="312">122</text><text x="390" y="363.500">43</text><text x="438" y="363.500">57</text><text x="410" y="399">42</text><text x="541.700" y="378.500">59</text><text x="677.500" y="397">68</text><text x="915" y="383">123</text><text x="909" y="415">195</text><text x="231.700" y="430.500">41</text><text x="288" y="426">56</text><text x="420" y="436">56</text><text x="521" y="428">55</text><text x="540.800" y="440.500">46</text><text x="379.500" y="473.500">64</text><text x="554.500" y="469.500">63</text><text x="330.500" y="493">60</text><text x="551.500" y="497">147</text><text x="214" y="514">38</text><text x="375" y="509.500">240</text><text x="536.800" y="524">34</text><text x="368.400" y="545">197</text><text x="666.400" y="518.500">33</text><text x="524" y="562">36</text><text x="678" y="561">32</text><text x="188" y="566">116</text><text x="312" y="562.500">113</text><text x="516.500" y="594.500">144</text><text x="841" y="586">46</text><text x="995" y="649">3</text><text x="291.600" y="614">47</text><text x="509" y="621">241</text><text x="562" y="641">41</text><text x="631" y="655.500">41</text><text x="698" y="631.500">40</text><text x="729.800" y="640.500">119</text><text x="786" y="657.500">117</text><text x="146" y="649">117</text><text x="198.400" y="661">119</text><text x="236" y="676">40</text><text x="495.700" y="665">242</text><text x="501" y="690.500">38</text><text x="812.400" y="698.300">116</text><text x="170" y="714.500">1</text><text x="837.300" y="732.600">21</text><text x="701" y="759">21</text><text x="926" y="782">198</text><text x="969" y="788">21</text><text x="207.600" y="845.500">188</text><text x="268" y="868">189</text><text x="782.700" y="860">69</text><text x="836" y="850.400">21</text><text x="870" y="864">23</text><text x="916" y="874">4</text><text x="749" y="861.500">69</text><text x="322" y="886.500">200</text><text x="367" y="902.700">40</text><text x="898" y="893">24</text><text x="943" y="913">25</text><text x="662.700" y="930">21</text><text x="407" y="952">189</text><text x="960" y="948">26</text><text x="447" y="999">188</text><text x="986" y="995">27</text><text x="141" y="985">19</text><text x="229.400" y="968.300">6</text><text x="796" y="1011">29</text><text x="535.700" y="1023">15</text><text x="685" y="1026">69</text><text x="380.700" y="1058.800">6</text><text x="546" y="1075.500">14</text><text x="680.600" y="1082">199</text><text x="388.700" y="1109.400">19</text><text x="806" y="1122">69</text><text x="542" y="1157">13</text><text x="687.600" y="1206.600">69</text><text x="505.700" y="1245.600">11</text><text x="553" y="1279">12</text>
</g>
</svg>
</body></html>
